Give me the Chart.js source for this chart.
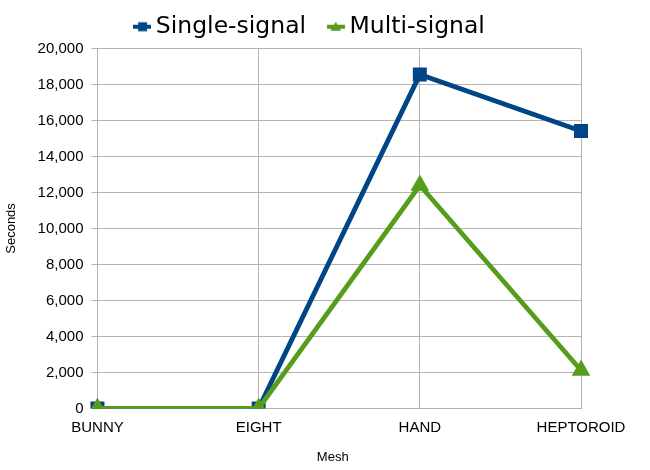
<!DOCTYPE html>
<html><head><meta charset="utf-8">
<script src="https://cdn.jsdelivr.net/npm/chart.js@4/dist/chart.umd.min.js"></script>
<style>html,body{margin:0;padding:0;background:#fff}#wrap{width:650px;height:470px}</style>
</head><body><div id="wrap"><canvas id="c" width="650" height="470"></canvas></div>
<script>
const categories = ["BUNNY", "EIGHT", "HAND", "HEPTOROID"];
const singleSignal = [0, 0, 18550, 15420];
const multiSignal = [0, 0, 12400, 2120];
const yTicks = [0, 2000, 4000, 6000, 8000, 10000, 12000, 14000, 16000, 18000, 20000];

const BLUE = '#004586', GREEN = '#579d1c';

function legendIcon(color, shape) {
  const cv = document.createElement('canvas');
  cv.width = 18; cv.height = 12;
  const g = cv.getContext('2d');
  g.fillStyle = color; g.strokeStyle = color;
  g.lineWidth = 4;
  g.beginPath(); g.moveTo(0, 6); g.lineTo(18, 6); g.stroke();
  if (shape === 'rect') {
    g.fillRect(5, 1.5, 9, 9);
  } else {
    g.beginPath(); g.moveTo(9, 1); g.lineTo(14.5, 10); g.lineTo(3.5, 10); g.closePath(); g.fill();
  }
  return cv;
}
const icons = [legendIcon(BLUE, 'rect'), legendIcon(GREEN, 'tri')];

new Chart(document.getElementById('c'), {
  type: 'line',
  data: {
    labels: categories,
    datasets: [
      { label: 'Single-signal', data: singleSignal, borderColor: BLUE, backgroundColor: BLUE, order: 1,
        borderWidth: 4.8, pointStyle: 'rect', pointRadius: 6.5, pointHoverRadius: 6.5, tension: 0 },
      { label: 'Multi-signal', data: multiSignal, borderColor: GREEN, backgroundColor: GREEN, order: 0,
        borderWidth: 4.8, pointStyle: 'triangle', pointRadius: 6, pointHoverRadius: 6, tension: 0 }
    ]
  },
  options: {
    responsive: false, animation: false,
    layout: { padding: { left: 4, right: 29, top: 7, bottom: 5 } },
    plugins: {
      legend: { position: 'top',
        labels: { font: { family: 'DejaVu Sans', size: 23.5 }, color: '#000',
          usePointStyle: true, pointStyleWidth: 4, boxHeight: 12, padding: 8,
          sort: (a, b) => a.datasetIndex - b.datasetIndex,
          generateLabels: (chart) => {
            const items = Chart.defaults.plugins.legend.labels.generateLabels(chart);
            items.forEach(it => {
              it.pointStyle = icons[it.datasetIndex];
              if (it.datasetIndex === 0) it.text = it.text + '  \u2009';
            });
            return items;
          } } },
      tooltip: { enabled: false }
    },
    scales: {
      x: { offset: false,
        afterFit: (s) => { s.paddingRight = 69; s.paddingLeft = 0; },
        grid: { color: '#b3b3b3', drawTicks: false },
        border: { color: '#b3b3b3' },
        ticks: { font: { family: 'Liberation Sans', size: 15 }, color: '#000', padding: 10, maxRotation: 0 },
        title: { display: true, text: 'Mesh\u2003', font: { family: 'Liberation Sans', size: 13 }, color: '#000', padding: { top: 3, bottom: 0 } } },
      y: { min: 0, max: 20000,
        afterBuildTicks: (a) => { a.ticks = yTicks.map(v => ({ value: v })); },
        grid: { color: '#b3b3b3', tickLength: 6 },
        border: { color: '#b3b3b3' },
        ticks: { font: { family: 'Liberation Sans', size: 15 }, color: '#000', padding: 8,
          callback: (v) => v.toLocaleString('en-US') },
        title: { display: true, text: 'Seconds', font: { family: 'Liberation Sans', size: 13 }, color: '#000', padding: { top: 0, bottom: 10 } } }
    }
  }
});
</script></body></html>
